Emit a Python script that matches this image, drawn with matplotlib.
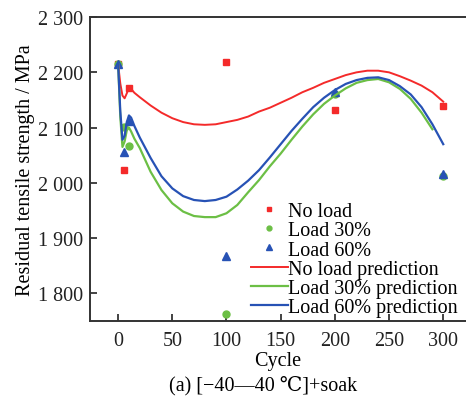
import matplotlib.pyplot as plt

plt.rcParams['font.family'] = ['Liberation Serif', 'DejaVu Serif']
plt.rcParams['mathtext.fontset'] = 'stix'

# measured points
cyc_pts = [0, 5, 10, 100, 200, 300]
noload_pts = [2215, 2024, 2172, 2219, 2132, 2140]
load30_pts = [2215, 2101, 2067, 1762, 2160, 2013]
load60_pts = [2215, 2055, 2112, 1868, 2164, 2016]

# prediction curves
cyc_curve = [0, 2, 4, 6, 8, 10, 12, 15, 20, 30, 40, 50, 60, 70, 80, 90, 100,
             110, 120, 130, 140, 150, 160, 170, 180, 190, 200, 210, 220, 230,
             240, 250, 260, 270, 280, 290, 300]
noload_curve = [2215, 2180, 2158, 2153, 2162, 2172, 2170, 2163, 2155, 2140,
                2127, 2117, 2110, 2106, 2105, 2106, 2110, 2114, 2120, 2129,
                2136, 2145, 2154, 2164, 2172, 2181, 2188, 2195, 2200, 2203,
                2203, 2200, 2193, 2185, 2176, 2164, 2147]
load30_curve = [2215, 2120, 2065, 2075, 2095, 2100, 2093, 2080, 2063, 2020,
                1987, 1963, 1948, 1940, 1938, 1938, 1945, 1960, 1983, 2005,
                2030, 2053, 2078, 2102, 2124, 2143, 2158, 2171, 2181, 2186,
                2188, 2182, 2170, 2152, 2127, 2097]
load60_curve = [2215, 2130, 2078, 2085, 2110, 2122, 2118, 2103, 2082, 2045,
                2012, 1990, 1976, 1969, 1967, 1969, 1975, 1988, 2004, 2023,
                2046, 2070, 2094, 2116, 2137, 2154, 2168, 2179, 2186, 2190,
                2191, 2186, 2175, 2160, 2137, 2106, 2070]

red = '#f42a2a'
green = '#6cbf45'
blue = '#2752b5'
fs = 14.5

fig = plt.figure(figsize=(4.66, 4.02), dpi=100)
ax = fig.add_axes([0.193, 0.199, 0.807, 0.756])

ax.plot(cyc_pts, noload_pts, 's', color=red, ms=5, ls='none', label='No load')
ax.plot(cyc_pts, load30_pts, 'o', color=green, ms=5, ls='none', label='Load 30%')
ax.plot(cyc_pts, load60_pts, '^', color=blue, ms=6, ls='none', label='Load 60%')
ax.plot(cyc_curve, noload_curve, '-', color=red, lw=1.4, label='No load prediction')
ax.plot(cyc_curve[:len(load30_curve)], load30_curve, '-', color=green, lw=1.6,
        label='Load 30% prediction')
ax.plot(cyc_curve, load60_curve, '-', color=blue, lw=1.6, label='Load 60% prediction')

ax.set_xlim(-26, 321)
ax.set_ylim(1750, 2300)
ax.set_xticks([0, 50, 100, 150, 200, 250, 300])
ax.set_yticks([1800, 1900, 2000, 2100, 2200, 2300])
ax.set_yticklabels(['1 800', '1 900', '2 000', '2 100', '2 200', '2 300'])
ax.tick_params(direction='in', length=5, width=1.2, labelsize=fs, colors='#222222')
ax.tick_params(axis='x', pad=7)
ax.tick_params(axis='y', pad=5)
ax.spines['right'].set_visible(False)
for s in ['left', 'top', 'bottom']:
    ax.spines[s].set_linewidth(1.4)
    ax.spines[s].set_color('#333333')

ax.set_ylabel('Residual tensile strength / MPa', fontsize=fs, labelpad=2)
ax.set_xlabel('Cycle', fontsize=fs, labelpad=1)

ax.legend(loc='lower right', bbox_to_anchor=(1.01, -0.026), frameon=False,
          fontsize=fs, labelspacing=0.0, handlelength=1.85, handletextpad=0.0,
          borderpad=0.1, markerscale=0.7)

fig.text(0.565, 0.028, '(a) [\u221240\u201440 \u2103]+soak', ha='center', fontsize=fs)

fig.savefig('out.png', dpi=100)
